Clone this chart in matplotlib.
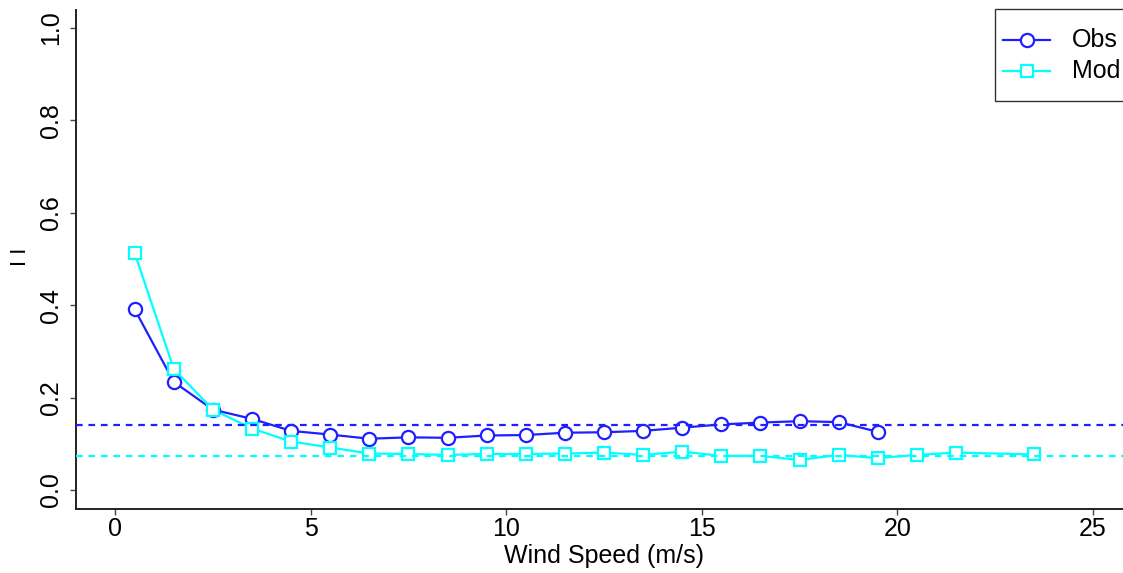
import numpy as np
import matplotlib
matplotlib.use("Agg")
import matplotlib.pyplot as plt
from matplotlib import font_manager
from matplotlib.lines import Line2D
from matplotlib.patches import Rectangle

# Turbulence intensity binned by wind speed
obs_ws = [0.5, 1.5, 2.5, 3.5, 4.5, 5.5, 6.5, 7.5, 8.5, 9.5,
          10.5, 11.5, 12.5, 13.5, 14.5, 15.5, 16.5, 17.5, 18.5, 19.5]
obs_ti = [0.391, 0.234, 0.174, 0.154, 0.128, 0.120, 0.111, 0.114, 0.113, 0.118,
          0.119, 0.124, 0.125, 0.128, 0.135, 0.142, 0.146, 0.149, 0.147, 0.126]

mod_ws = [0.5, 1.5, 2.5, 3.5, 4.5, 5.5, 6.5, 7.5, 8.5, 9.5,
          10.5, 11.5, 12.5, 13.5, 14.5, 15.5, 16.5, 17.5, 18.5, 19.5,
          20.5, 21.5, 23.5]
mod_ti = [0.513, 0.262, 0.174, 0.133, 0.105, 0.092, 0.079, 0.078, 0.076, 0.078,
          0.078, 0.079, 0.081, 0.076, 0.083, 0.074, 0.074, 0.065, 0.076, 0.069,
          0.076, 0.081, 0.077]

# Overall mean TI for each series
obs_mean = 0.141
mod_mean = 0.074

x_ticks = [0, 5, 10, 15, 20, 25]
y_ticks = [0.0, 0.2, 0.4, 0.6, 0.8, 1.0]
y_tick_labels = ["0.0", "0.2", "0.4", "0.6", "0.8", "1.0"]
series_names = ["Obs", "Mod"]

OBS_COLOR = "#1f1fff"
MOD_COLOR = "#00ffff"

available = {f.name for f in font_manager.fontManager.ttflist}
if "Liberation Sans Narrow" in available:
    FAMILY = ["Liberation Sans Narrow", "DejaVu Sans"]
    FS = 22
else:
    FAMILY = ["Liberation Sans", "DejaVu Sans"]
    FS = 18
plt.rcParams["font.family"] = FAMILY

W, H = 1123, 573
fig = plt.figure(figsize=(W / 100, H / 100), dpi=100)
left, right = 76 / W, 1132 / W
bottom, top = (H - 508.5) / H, (H - 9.5) / H
ax = fig.add_axes([left, bottom, right - left, top - bottom])

ax.set_xlim(-1.0, 26.0)
ax.set_ylim(-0.04, 1.04)

lw = 1.6
mew = 1.6
obs_style = dict(color=OBS_COLOR, marker="o", markersize=9.5,
                 markerfacecolor="white", markeredgecolor=OBS_COLOR, markeredgewidth=mew)
mod_style = dict(color=MOD_COLOR, marker="s", markersize=8.5,
                 markerfacecolor="white", markeredgecolor=MOD_COLOR, markeredgewidth=mew)

ax.plot(obs_ws, obs_ti, color=OBS_COLOR, lw=lw, zorder=2)
ax.plot(obs_ws, obs_ti, linestyle="none", zorder=3, **obs_style)
ax.plot(mod_ws, mod_ti, color=MOD_COLOR, lw=lw, zorder=2)
ax.plot(mod_ws, mod_ti, linestyle="none", zorder=3, **mod_style)

ax.axhline(obs_mean, color=OBS_COLOR, lw=lw, dashes=(3.0, 2.6), zorder=4)
ax.axhline(mod_mean, color=MOD_COLOR, lw=lw, dashes=(3.0, 2.6), zorder=4)

for s in ["top", "right"]:
    ax.spines[s].set_visible(False)
for s in ["left", "bottom"]:
    ax.spines[s].set_linewidth(1.4)
    ax.spines[s].set_color("#222222")

ax.set_xticks(x_ticks)
ax.set_xticklabels([str(t) for t in x_ticks], fontsize=FS)
ax.set_yticks(y_ticks)
ax.set_yticklabels(y_tick_labels, fontsize=FS, rotation=90, va="center")
ax.tick_params(axis="both", length=4.5, width=1.0, color="#444444")
ax.tick_params(axis="x", pad=1.5)
ax.tick_params(axis="y", pad=5)

ax.set_xlabel("Wind Speed (m/s)", fontsize=FS, labelpad=2.5)
fig.text(21 / W, 1 - 257 / H, "I I", rotation=90, ha="center", va="center",
         fontsize=16, family=["Liberation Sans", "DejaVu Sans"])

# Legend drawn in pixel coordinates at the top-right corner of the plot region
px = lambda x, y: (x / W, 1 - y / H)
frame = Rectangle(px(995, 101), (1132 - 995) / W, (101 - 9.5) / H,
                  transform=fig.transFigure, facecolor="white", edgecolor="#333333",
                  lw=1.0, zorder=10)
fig.add_artist(frame)
for name, style, yrow in zip(series_names, [obs_style, mod_style], [40, 71]):
    (x0, yy), (x1, _) = px(1003, yrow), px(1050, yrow)
    fig.add_artist(Line2D([x0, x1], [yy, yy], transform=fig.transFigure,
                          color=style["color"], lw=lw, zorder=11))
    xm, _ = px(1026.5, yrow)
    fig.add_artist(Line2D([xm], [yy], transform=fig.transFigure, linestyle="none",
                          zorder=12, **style))
    xt, _ = px(1072, yrow)
    fig.text(xt, yy, name, ha="left", va="center", fontsize=FS, zorder=13)

fig.savefig("out.png", dpi=100)
